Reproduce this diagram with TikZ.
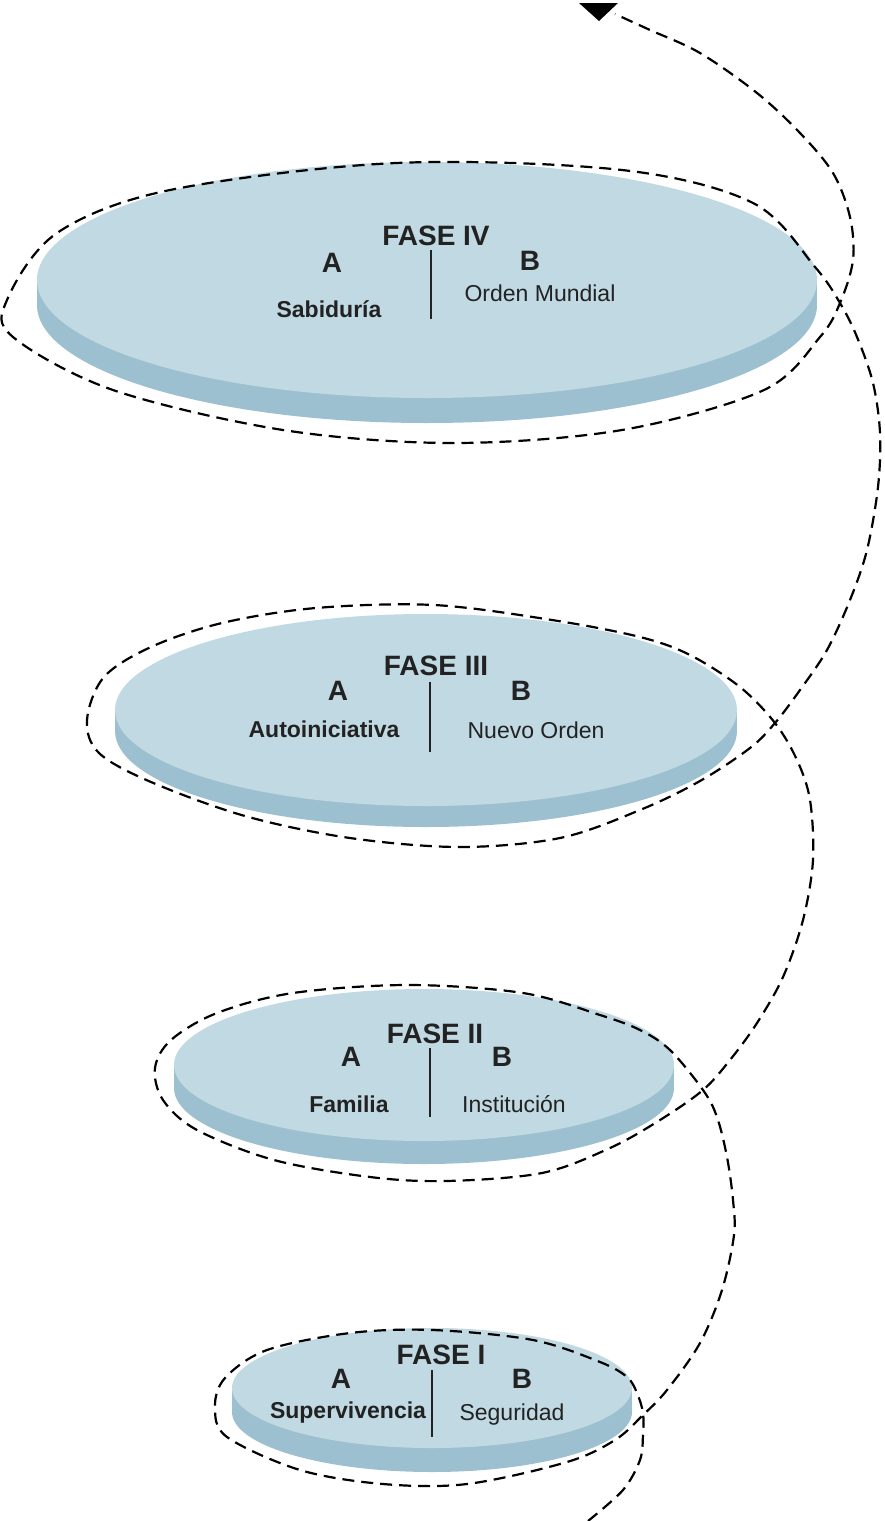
\documentclass[tikz,border=0pt]{standalone}
\usepackage{fontspec}
\setmainfont{Liberation Sans}
\definecolor{ink}{HTML}{222222}
\definecolor{disctop}{HTML}{C0D9E3}
\definecolor{discside}{HTML}{9DC0D0}
\newcommand\mydisc[5]{%
  \fill[discside] (#1,#2+#5) ellipse[x radius=#3pt, y radius=#4pt];
  \fill[discside] (#1-#3,#2) rectangle (#1+#3,#2+#5);
  \fill[disctop] (#1,#2) ellipse[x radius=#3pt, y radius=#4pt];}
\tikzset{
  fase/.style={inner sep=0pt, text=ink, font=\fontsize{28}{30}\selectfont\bfseries, text height=20pt, text depth=0pt},
  subb/.style={inner sep=0pt, text=ink, font=\fontsize{23}{26}\selectfont\bfseries, text height=16.5pt, text depth=0pt},
  subr/.style={inner sep=0pt, text=ink, font=\fontsize{23}{26}\selectfont, text height=16.5pt, text depth=0pt},
  divider/.style={draw=ink, line width=2.4pt},
  spiral/.style={draw=black, line width=2.2pt, dash pattern=on 12pt off 7pt}
}
\begin{document}
\begin{tikzpicture}[x=1pt,y=-1pt]
\useasboundingbox (0,0) rectangle (885,1521);
% discs
\mydisc{427}{280}{390}{118}{25}
\mydisc{426}{710}{311}{96}{21}
\mydisc{424}{1065}{250}{76}{23}
\mydisc{432}{1388}{200}{60}{24}
% spiral
\draw[spiral] plot[smooth, tension=0.55] coordinates {
(588,1521) (623,1490) (640,1460) (643,1435) (643,1413) (637,1393) (627,1377) (600,1362) (533,1340) (433,1330) (350,1333) (267,1350) (225,1378) (215,1407) (227,1437) (300,1470) (383,1484) (467,1484) (567,1462) (615,1440) (643,1415) (667,1390) (700,1343) (722,1290) (734,1235) (733,1200) (727,1157) (717,1117) (703,1090) (670,1050) (640,1030) (600,1015) (523,993) (408,985) (293,993) (217,1013) (171,1040) (155,1068) (163,1100) (197,1130) (274,1160) (370,1177) (446,1181) (542,1173) (610,1148) (660,1120) (703,1090) (730,1060) (757,1023) (783,977) (803,920) (813,860) (810,800) (797,760) (775,723) (740,687) (690,655) (640,637) (552,620) (434,605) (316,608) (222,623) (151,647) (104,677) (87,720) (99,753) (151,782) (245,816) (350,838) (460,847) (560,838) (640,810) (700,781) (750,748) (775,723) (800,690) (827,650) (850,600) (867,550) (878,487) (880,433) (873,383) (857,337) (840,303) (815,267) (753,203) (622,170) (396,163) (170,190) (57,233) (7,300) (13,337) (113,390) (283,430) (453,443) (622,430) (764,390) (820,337) (840,303) (853,260) (850,217) (833,173) (800,133) (757,93) (700,53) (650,30) (615,14)};
\fill[black] (579,3) -- (618,3) -- (599,21) -- cycle;
% disc IV
\node[fase] (f4) at (436,235) {FASE IV};
\node[fase] (a4) at (332,262) {A};
\node[fase] (b4) at (530,260) {B};
\node[subb] (s4a) at (329,309) {Sabiduría};
\node[subr] (s4b) at (540,293) {Orden Mundial};
\draw[divider] (431,250) -- (431,319);
% disc III
\node[fase] (f3) at (436,665) {FASE III};
\node[fase] (a3) at (338,690) {A};
\node[fase] (b3) at (521,690) {B};
\node[subb] (s3a) at (324,729) {Autoiniciativa};
\node[subr] (s3b) at (536,730) {Nuevo Orden};
\draw[divider] (430,682) -- (430,752);
% disc II
\node[fase] (f2) at (435,1033) {FASE II};
\node[fase] (a2) at (351,1056) {A};
\node[fase] (b2) at (502,1056) {B};
\node[subb] (s2a) at (349,1104) {Familia};
\node[subr] (s2b) at (514,1104) {Institución};
\draw[divider] (430,1048) -- (430,1117);
% disc I
\node[fase] (f1) at (441,1354) {FASE I};
\node[fase] (a1) at (341,1378) {A};
\node[fase] (b1) at (522,1378) {B};
\node[subb] (s1a) at (348,1410) {Supervivencia};
\node[subr] (s1b) at (512,1412) {Seguridad};
\draw[divider] (432,1370) -- (432,1437);
\end{tikzpicture}
\end{document}
